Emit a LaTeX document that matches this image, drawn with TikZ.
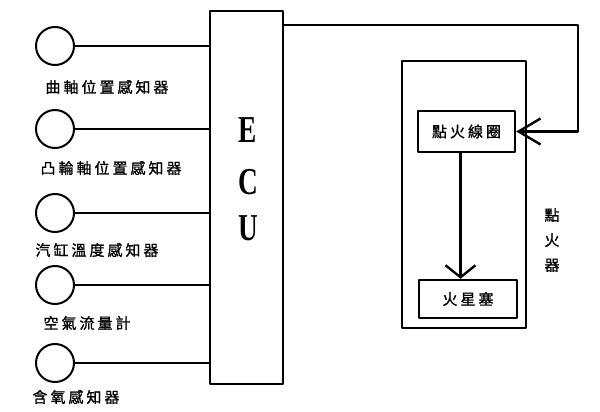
\documentclass[tikz,border=0pt]{standalone}
\usepackage{fontspec}
\usepackage{tikz}
\usetikzlibrary{arrows.meta}
\setmainfont{Liberation Serif}
\newfontfamily\cjk[LetterSpace=20,FakeBold=1.2]{Noto Sans CJK TC}
\tikzset{
  sensor/.style={draw,circle,line width=2pt,minimum size=38pt,inner sep=0pt},
  wire/.style={line width=2.4pt},
  block/.style={draw,line width=2.4pt,inner sep=0pt},
  lbl/.style={font=\cjk\fontsize{15pt}{17pt}\selectfont,inner sep=0pt},
  ecutxt/.style={font=\fontsize{38pt}{40pt}\selectfont\bfseries,xscale=.72,transform shape,inner sep=0pt},
  harrow/.style={-{Straight Barb[length=22pt,width=26pt,line width=2.4pt]}},
  varrow/.style={-{Straight Barb[length=12pt,width=30pt,line width=2.4pt]}}
}
\begin{document}
\begin{tikzpicture}[x=1pt,y=-1pt,line cap=round,line join=round]
\useasboundingbox (0,0) rectangle (600,412);
% ECU
\node[block,minimum width=73pt,minimum height=373pt] (ecu) at (246.5,197.5) {};
\node[ecutxt] (e) at (248,130) {E};
\node[ecutxt] (c) at (248,182) {C};
\node[ecutxt] (u) at (248,228) {U};
% cac cam bien
\node[sensor] (s1) at (55,46) {};
\node[sensor] (s2) at (55,129) {};
\node[sensor] (s3) at (55,213) {};
\node[sensor] (s4) at (55,285) {};
\node[sensor] (s5) at (55,363) {};
\node[lbl] (l1) at (107,87) {曲軸位置感知器};
\node[lbl] (l2) at (111,168) {凸輪軸位置感知器};
\node[lbl] (l3) at (97,250) {汽缸溫度感知器};
\node[lbl] (l4) at (87,323) {空氣流量計};
\node[lbl] (l5) at (76,397) {含氧感知器};
\foreach \s in {s1,s2,s3,s4,s5}
\draw[wire] (\s.east) -- (\s -| ecu.west);
% bo danh lua
\node[block,minimum width=124pt,minimum height=267pt] (ign) at (464,194.5) {};
\node[block,minimum width=97pt,minimum height=41pt,lbl] (coil) at (466.5,131.5) {點火線圈};
\node[block,minimum width=98pt,minimum height=38pt,lbl] (plug) at (468,299) {火星塞};
\node[lbl,align=center,font=\cjk\fontsize{15pt}{25pt}\selectfont] (ignl) at (552,240) {點\\火\\器};
% day noi
\coordinate (out) at (ecu.north east |- 0,25);
\draw[wire,harrow] (out) -- (578,25) |- (coil.east);
\draw[wire,varrow] ([xshift=-6pt]coil.south) -- ([xshift=-6pt]coil.south |- plug.north);
\end{tikzpicture}
\end{document}
